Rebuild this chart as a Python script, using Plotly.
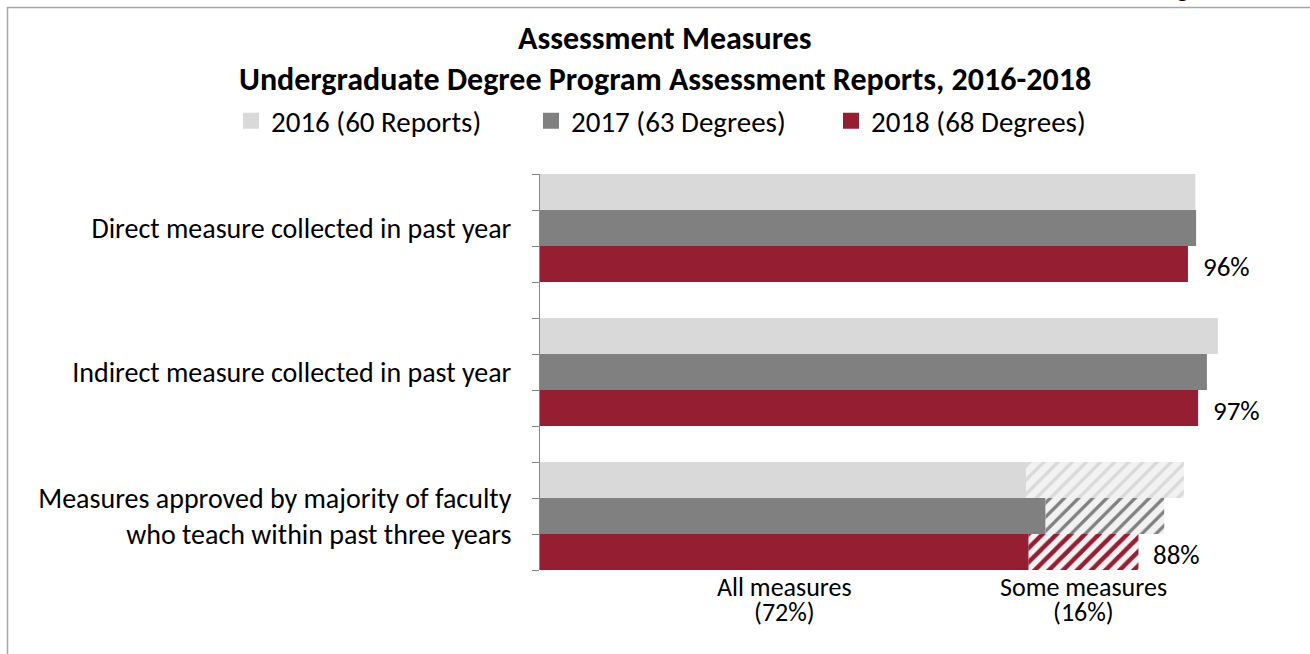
import plotly.graph_objects as go

# ---------------- data ----------------
categories = [
    "Direct measure collected in past year",
    "Indirect measure collected in past year",
    "Measures approved by majority of faculty<br>who teach within past three years",
]
series_names = ["2016 (60 Reports)", "2017 (63 Degrees)", "2018 (68 Degrees)"]
colors = ["#D9D9D9", "#808080", "#961E32"]

# percent of reports/degrees; third category = "All measures" part
val_2016 = [96.7, 100.0, 71.7]
val_2017 = [96.8, 98.4, 74.6]
val_2018 = [95.6, 97.1, 72.1]
# "Some measures" part (third category only, hatched)
some_2016 = 23.3
some_2017 = 17.5
some_2018 = 16.2

series_vals = [val_2016, val_2017, val_2018]
series_some = [some_2016, some_2017, some_2018]

# ---------------- layout geometry ----------------
W, H = 1310, 654
ML, MR, MT, MB = 540, 38, 174, 84
PW = W - ML - MR
PH = H - MT - MB
XMAX = 108
FONT = "Carlito, Calibri, Lato, sans-serif"


def px_x(px):
    return (px - ML) / PW


def px_y(py):
    return (H - MB - py) / PH


GROUP = 4  # 3 bars + one gap slot per category


def ypos(ci, si):
    return ci * GROUP + si + 0.5


fig = go.Figure()

for si, (name, col, vals) in enumerate(zip(series_names, colors, series_vals)):
    fig.add_trace(go.Bar(
        orientation="h",
        x=vals,
        y=[ypos(ci, si) for ci in range(len(categories))],
        width=1,
        name=name,
        showlegend=False,
        legendgroup=name,
        marker=dict(color=col, line=dict(width=0)),
        hoverinfo="x+name",
    ))

for si, (name, col, vals, some) in enumerate(zip(series_names, colors, series_vals, series_some)):
    fig.add_trace(go.Bar(
        orientation="h",
        x=[some],
        base=[vals[2]],
        y=[ypos(2, si)],
        width=1,
        name=name + " - some measures",
        showlegend=False,
        legendgroup=name,
        marker=dict(color="#F2F2F2", line=dict(width=0),
                    pattern=dict(shape="/", fgcolor=col, bgcolor="#F2F2F2",
                                 size=10, solidity=0.45 if si == 2 else 0.33,
                                 fillmode="replace")),
    ))

# legend entries (square keys)
for name, col in zip(series_names, colors):
    fig.add_trace(go.Scatter(
        x=[None], y=[None], mode="markers", name=name, legendgroup=name,
        marker=dict(symbol="square", size=16, color=col, line=dict(width=0)),
        showlegend=True, hoverinfo="skip",
    ))

annotations = []
# data labels for 2018
totals_2018 = [val_2018[0], val_2018[1], val_2018[2] + some_2018]
for ci, t in enumerate(totals_2018):
    annotations.append(dict(
        x=t, y=ypos(ci, 2), xref="x", yref="y", text=f"{round(t)}%",
        showarrow=False, xanchor="left", yanchor="middle", xshift=13, yshift=-2,
        font=dict(family=FONT, size=27, color="#000000"),
    ))

# bottom explanatory labels (two lines each, tight line spacing)
bottom_labels = [
    (val_2018[2] / 2, "All measures", f"({round(val_2018[2])}%)"),
    (val_2018[2] + some_2018 / 2, "Some measures", f"({round(some_2018)}%)"),
]
for xc, line1, line2 in bottom_labels:
    for txt, py in ((line1, 587), (line2, 612)):
        annotations.append(dict(
            x=xc, y=px_y(py), xref="x", yref="paper", text=txt, showarrow=False,
            xanchor="center", yanchor="middle",
            font=dict(family=FONT, size=26, color="#000000"),
        ))

# titles
annotations.append(dict(
    x=px_x(665), y=px_y(38), xref="paper", yref="paper",
    text="<b>Assessment Measures</b>", showarrow=False,
    xanchor="center", yanchor="middle",
    font=dict(family=FONT, size=32, color="#000000"),
))
annotations.append(dict(
    x=px_x(665), y=px_y(79), xref="paper", yref="paper",
    text="<b>Undergraduate Degree Program Assessment Reports, 2016-2018</b>", showarrow=False,
    xanchor="center", yanchor="middle",
    font=dict(family=FONT, size=32, color="#000000"),
))
# cropped figure caption at very top
annotations.append(dict(
    x=px_x(1155), y=px_y(6), xref="paper", yref="paper",
    text="Figure", showarrow=False, xanchor="left", yanchor="bottom",
    font=dict(family=FONT, size=28, color="#000000"),
))

shapes = [
    dict(type="line", xref="paper", yref="paper",
         x0=px_x(7), x1=px_x(1320), y0=px_y(7.5), y1=px_y(7.5),
         line=dict(color="#A6A6A6", width=1.5)),
    dict(type="line", xref="paper", yref="paper",
         x0=px_x(7.5), x1=px_x(7.5), y0=px_y(7), y1=px_y(670),
         line=dict(color="#A6A6A6", width=1.5)),
]

fig.update_layout(
    width=W, height=H,
    margin=dict(l=ML, r=MR, t=MT, b=MB, pad=0, autoexpand=False),
    paper_bgcolor="#FFFFFF", plot_bgcolor="#FFFFFF",
    barmode="overlay",
    font=dict(family=FONT, size=28, color="#000000"),
    showlegend=True,
    legend=dict(
        orientation="h", xref="paper", yref="paper",
        x=px_x(231), y=px_y(121), xanchor="left", yanchor="middle",
        entrywidth=255, entrywidthmode="pixels",
        font=dict(family=FONT, size=29, color="#000000"),
        bgcolor="rgba(0,0,0,0)", traceorder="normal", itemsizing="trace",
    ),
    xaxis=dict(range=[0, XMAX], showgrid=False, zeroline=False, showline=False,
               showticklabels=False, ticks=""),
    yaxis=dict(
        range=[len(categories) * GROUP - 1, 0],
        tickmode="array",
        tickvals=[ypos(ci, 1) for ci in range(len(categories))],
        ticktext=categories,
        ticks="", showgrid=False, zeroline=False,
        showline=True, linecolor="#888888", linewidth=1,
        ticklabelstandoff=22,
        tickfont=dict(family=FONT, size=28, color="#000000"),
        minor=dict(tickmode="array", tickvals=list(range(len(categories) * GROUP)),
                   ticks="outside", ticklen=7, tickcolor="#888888", tickwidth=1,
                   showgrid=False),
    ),
    annotations=annotations,
    shapes=shapes,
)

fig.write_html(
    "out.html",
    config={"displayModeBar": False},
    post_script="document.body.style.margin='0';document.documentElement.style.overflow='hidden';",
)
